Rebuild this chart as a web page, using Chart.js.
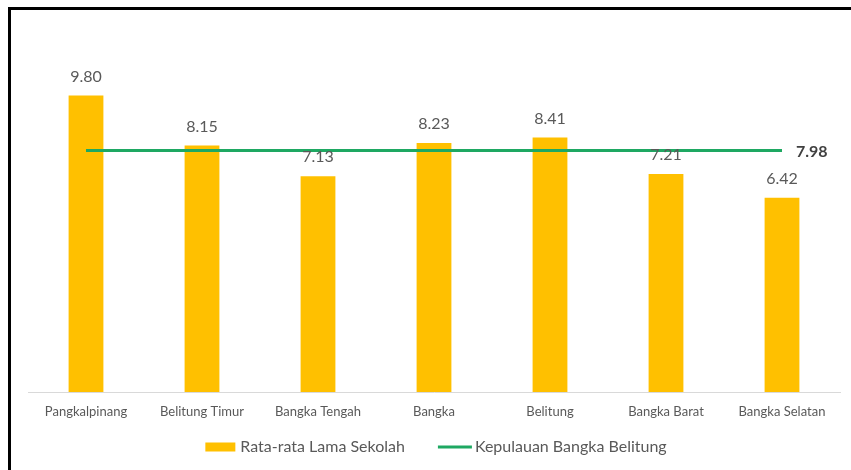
<!DOCTYPE html>
<html>
<head>
<meta charset="utf-8">
<script src="https://cdn.jsdelivr.net/npm/chart.js@4.4.1/dist/chart.umd.min.js"></script>
<style>
  html, body { margin: 0; padding: 0; background: #fff; }
  #wrap { width: 851px; height: 470px; }
</style>
</head>
<body>
<div id="wrap"><canvas id="chart" width="851" height="470"></canvas></div>
<script>
// data
var kabupaten = ["Pangkalpinang", "Belitung Timur", "Bangka Tengah", "Bangka", "Belitung", "Bangka Barat", "Bangka Selatan"];
var rls = [9.80, 8.15, 7.13, 8.23, 8.41, 7.21, 6.42];
var provinsi = 7.98;
var namaBar = "Rata-rata Lama Sekolah";
var namaGaris = "Kepulauan Bangka Belitung";

var kuning = "#FFC000";
var hijau = "#1ea862";
var abu = "#595959";

var labelPlugin = {
  id: "labelNilai",
  beforeDraw: function (chart) {
    var ctx = chart.ctx;
    ctx.save();
    ctx.fillStyle = "#fff";
    ctx.fillRect(0, 0, chart.width, chart.height);
    // frame
    ctx.fillStyle = "#000";
    ctx.fillRect(8, 7, chart.width, 3);
    ctx.fillRect(8, 7, 3, chart.height);
    ctx.restore();
  },
  afterDatasetsDraw: function (chart) {
    var ctx = chart.ctx;
    ctx.save();
    // bar values
    ctx.font = "16px Lato";
    ctx.fillStyle = abu;
    ctx.textAlign = "center";
    ctx.textBaseline = "middle";
    chart.getDatasetMeta(0).data.forEach(function (bar, i) {
      ctx.fillText(rls[i].toFixed(2), bar.x, bar.y - 19);
    });
    // province value at the end of the line
    var pts = chart.getDatasetMeta(1).data;
    var last = pts[pts.length - 1];
    ctx.font = "bold 16px Lato";
    ctx.fillStyle = "#404040";
    ctx.textAlign = "left";
    ctx.fillText(provinsi.toFixed(2), last.x + 14, last.y + 1);

    // legend
    var ca = chart.chartArea;
    ctx.font = "16px Lato";
    var w1 = ctx.measureText(namaBar).width;
    var w2 = ctx.measureText(namaGaris).width;
    var total = 30 + 5 + w1 + 33 + 34 + 3 + w2;
    var x = (ca.left + ca.right) / 2 - total / 2 + 2;
    var y = 447;
    ctx.fillStyle = kuning;
    ctx.fillRect(x, y - 4.5, 30, 9);
    x += 35;
    ctx.fillStyle = abu;
    ctx.fillText(namaBar, x, y);
    x += w1 + 33;
    ctx.strokeStyle = hijau;
    ctx.lineWidth = 3;
    ctx.beginPath();
    ctx.moveTo(x, y);
    ctx.lineTo(x + 34, y);
    ctx.stroke();
    x += 37;
    ctx.fillText(namaGaris, x, y);
    ctx.restore();
  }
};

new Chart(document.getElementById("chart"), {
  type: "bar",
  data: {
    labels: kabupaten,
    datasets: [{
        type: "bar",
        label: namaBar,
        data: rls,
        backgroundColor: kuning,
        barPercentage: 0.3,
        categoryPercentage: 1,
        order: 1
      }, {
        type: "line",
        label: namaGaris,
        data: kabupaten.map(function () { return provinsi; }),
        borderColor: hijau,
        borderWidth: 3,
        pointRadius: 0,
        fill: false,
        order: 0
      }
    ]
  },
  plugins: [labelPlugin],
  options: {
    responsive: false,
    animation: false,
    layout: { padding: { left: 28, right: 11, top: 29, bottom: 0 } },
    plugins: {
      legend: { display: false },
      tooltip: { enabled: false }
    },
    scales: {
      x: {
        grid: { display: false, drawTicks: false, tickLength: 0 },
        border: { display: true, color: "#d9d9d9", width: 1 },
        ticks: { color: abu, font: { family: "Lato", size: 13 }, padding: 12, maxRotation: 0, autoSkip: false },
        afterFit: function (scale) { scale.height = 78; }
      },
      y: {
        display: false,
        min: 0,
        max: 12
      }
    }
  }
});
</script>
</body>
</html>
